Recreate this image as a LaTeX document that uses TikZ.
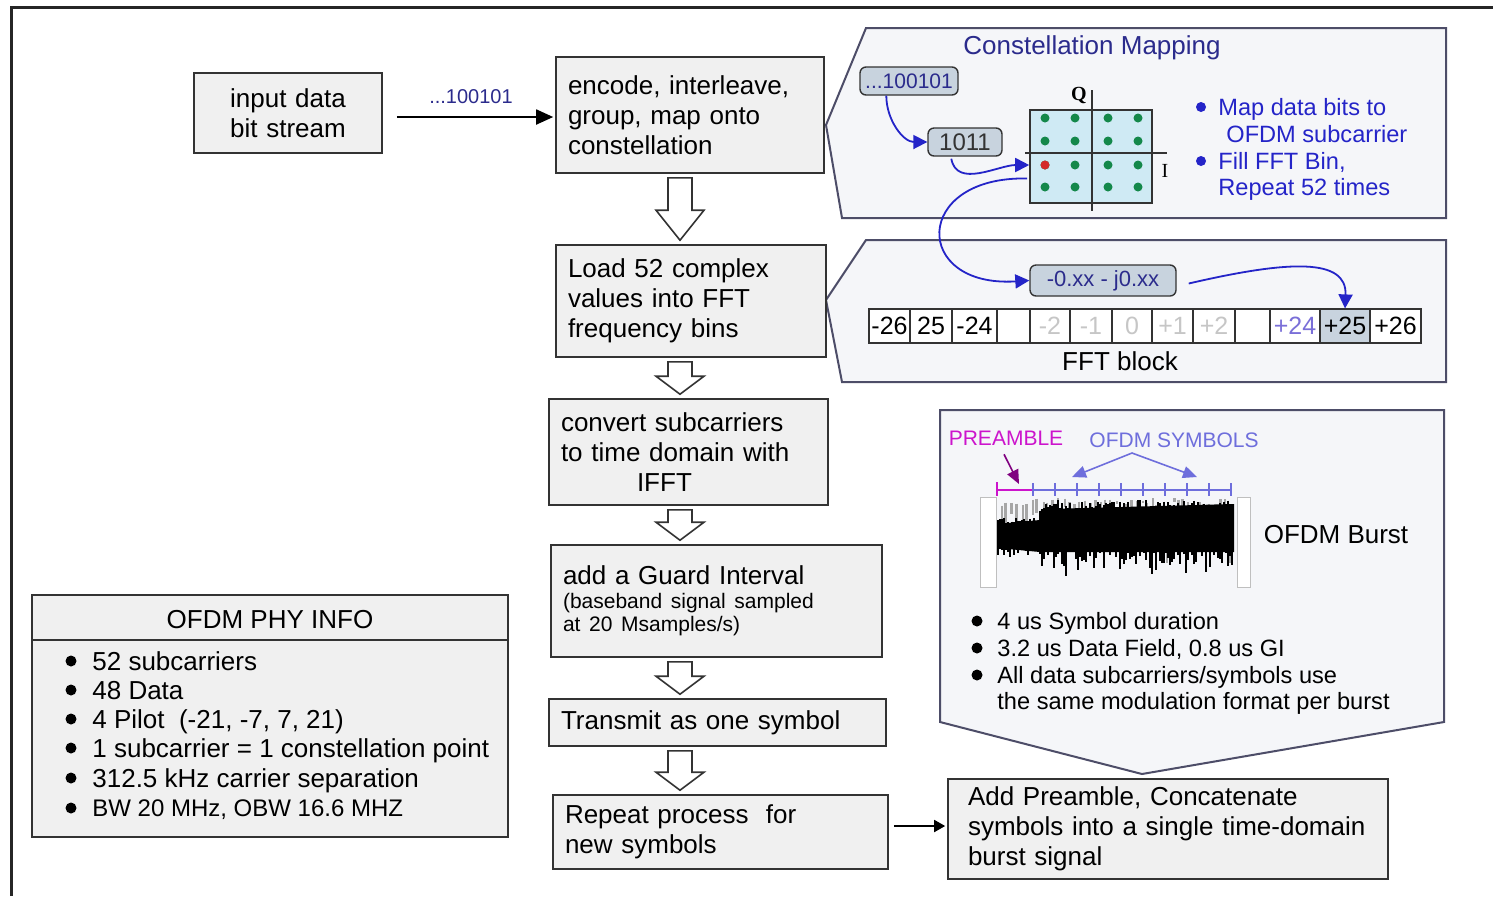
\documentclass[tikz,border=0pt]{standalone}
\usepackage{fontspec}
\setmainfont{Liberation Sans}
\newfontfamily\axisfont{Liberation Serif}
\usetikzlibrary{arrows.meta,calc,positioning}

\definecolor{boxfill}{HTML}{F0F0F0}
\definecolor{boxline}{HTML}{333333}
\definecolor{panelfill}{HTML}{F5F6F9}
\definecolor{panelline}{HTML}{4D4D68}
\definecolor{navy}{HTML}{2B2B8C}
\definecolor{mapblue}{HTML}{2424C8}
\definecolor{chipfill}{HTML}{C8D3DE}
\definecolor{gridfill}{HTML}{CFEAF4}
\definecolor{dotgreen}{HTML}{14884A}
\definecolor{dotred}{HTML}{D42A2A}
\definecolor{preamb}{HTML}{CC14CC}
\definecolor{symblue}{HTML}{6E6EDC}
\definecolor{binpurple}{HTML}{7A6FD8}

\newcommand\bigfont{\fontsize{13}{15}\selectfont}
\newcommand\midfont{\fontsize{11.8}{13.4}\selectfont}
\newcommand\smallfont{\fontsize{10.5}{11.5}\selectfont}
% hollow block arrow from the bottom of #1 to the top of #2, head length #3
\newcommand\hollowdown[3]{%
  \draw[hollow] let \p1=(#1.south -| ax), \p2=(#2.north -| ax) in
    (\x1-6pt,\y1-2pt) -- (\x1+6pt,\y1-2pt) -- (\x1+6pt,\y2+#3+2pt)
    -- (\x1+12pt,\y2+#3+2pt) -- (\x1,\y2+2pt) -- (\x1-12pt,\y2+#3+2pt)
    -- (\x1-6pt,\y2+#3+2pt) -- cycle;}

\begin{document}
\begin{tikzpicture}[x=0.5pt, y=-0.5pt,
    stepbox/.style={draw=boxline, fill=boxfill, line width=0.8pt, inner xsep=6pt,
      inner ysep=0pt, align=left, font=\bigfont},
    panel/.style={draw=panelline, fill=panelfill, line width=1pt},
    chip/.style={draw=boxline, fill=chipfill, rounded corners=3pt, line width=0.7pt, inner sep=1pt},
    hollow/.style={draw=boxline, fill=white, line width=0.8pt},
    flow/.style={line width=0.9pt, -{Triangle[length=8.5pt,width=7.5pt]}},
    bluecurve/.style={draw=mapblue, line width=0.9pt, -{Triangle[length=7pt,width=7pt]}},
    cdot/.style={circle, fill=dotgreen, inner sep=0pt, minimum size=4.5pt},
    bin/.style={draw=boxline, fill=white, line width=0.6pt, minimum height=17pt,
      inner sep=0pt, font=\fontsize{12.5}{13}\selectfont},
    binplain/.style={},
    binfaint/.style={text=gray!45},
    binlow/.style={text=binpurple},
    binhi/.style={fill=chipfill},
    notes/.style={align=left, anchor=north west, inner sep=0pt}]
\useasboundingbox (0,0) rectangle (1493,896);
\draw[line width=1.5pt, black!85] (11,896) -- (11,7) -- (1493,7);
\coordinate (ax) at (680,0);

% side panels
\draw[panel] (866,28) -- (1446,28) -- (1446,218) -- (842,218) -- (826,125) -- cycle;
\draw[panel] (866,240) -- (1446,240) -- (1446,382) -- (842,382) -- (826,300) -- cycle;
\draw[panel] (940,410) -- (1444,410) -- (1444,722) -- (1142,774) -- (940,722) -- cycle;

% process chain
\node[stepbox, align=center, text width=82pt, minimum height=40pt] (input) at (288,113)
  {input data\\bit stream};
\node[stepbox, text width=122pt, minimum height=58pt] (encode) at (690,115)
  {encode, interleave,\\group, map onto\\constellation};
\node[stepbox, text width=123pt, minimum height=56pt] (load) at (691,301)
  {Load 52 complex\\values into FFT\\frequency bins};
\node[stepbox, text width=127.5pt, minimum height=53pt] (convert) at (688.5,452)
  {convert subcarriers\\to time domain with\\\hspace*{38pt}IFFT};
\node[stepbox, text width=153.5pt, minimum height=56pt] (guard) at (716.5,601)
  {add a Guard Interval\\[0.5pt]\smallfont(baseband signal sampled\\[-3.5pt]at 20 Msamples/s)};
\node[stepbox, text width=156.5pt, minimum height=23.5pt] (transmit) at (717.5,722.5)
  {Transmit as one symbol};
\node[stepbox, text width=155.5pt, minimum height=37pt] (repeat) at (720.5,832)
  {Repeat process\ \ for\\new symbols};
\node[stepbox, inner xsep=10pt, text width=200pt, minimum height=50pt] (addpre) at (1168,829)
  {Add Preamble, Concatenate\\symbols into a single time-domain\\burst signal};

\draw[flow] ($(input.east)+(14,4)$) -- ($(encode.west)+(-2,2)$)
  node[midway, above=3pt, xshift=-2pt, font=\fontsize{10}{11}\selectfont, text=navy] {...100101};
\draw[flow, -{Triangle[length=5.5pt,width=6pt]}] ($(repeat.east)+(5,-6)$) -- ($(addpre.west)+(-2,-3)$);

\hollowdown{encode}{load}{15pt}
\hollowdown{load}{convert}{9pt}
\hollowdown{convert}{guard}{9pt}
\hollowdown{guard}{transmit}{9pt}
\hollowdown{transmit}{repeat}{9pt}

% PHY info
\node[draw=boxline, fill=boxfill, line width=0.8pt, minimum width=238pt, minimum height=121pt]
  (phy) at (270,716) {};
\draw[boxline, line width=0.8pt] ($(phy.north west)+(0,46)$) -- ($(phy.north east)+(0,46)$);
\node[font=\bigfont] (phytitle) at (270,620) {OFDM PHY INFO};
\node[notes, font=\bigfont] (phylist) at (92,651)
  {52 subcarriers\\[-0.4pt]
   48 Data\\[-0.4pt]
   4 Pilot~ (-21, -7, 7, 21)\\[-0.4pt]
   1 subcarrier = 1 constellation point\\[-0.4pt]
   312.5 kHz carrier separation\\[-0.4pt]
   {\fontsize{12}{15}\selectfont BW 20 MHz, OBW 16.6 MHZ}};
\foreach \by in {661,690,719,748,778,808}
  \fill (71,\by) circle (5.5);

% constellation mapping
\node[font=\bigfont, text=navy] (cmtitle) at (1092,48) {Constellation Mapping};
\node[chip, font=\fontsize{10.5}{12}\selectfont, text=navy, minimum width=49pt, minimum height=14pt]
  (bits) at (909,81) {...100101};
\node[chip, font=\fontsize{12}{12}\selectfont, text=boxline, minimum width=37pt, minimum height=14pt]
  (nibble) at (965,142) {1011};
\node[draw=boxline, fill=gridfill, line width=0.8pt, minimum width=61pt, minimum height=46.5pt,
  inner sep=0pt] (grid) at (1091,156.5) {};
\foreach \dx in {1045,1075,1108,1138}
  \foreach \dy in {118,141,165,187}
    \node[cdot] at (\dx,\dy) {};
\node[cdot, fill=dotred] (redpt) at (1045,165) {};
\draw[boxline, line width=0.8pt] (1092,90) -- (1092,211);
\draw[boxline, line width=0.8pt] (1025,153) -- (1167,153);
\node[font=\axisfont\bfseries\fontsize{10}{10}\selectfont] (qlab) at (1079,95) {Q};
\node[font=\axisfont\fontsize{10}{10}\selectfont] (ilab) at (1165,171) {I};
\node[notes, font=\midfont, text=mapblue] (mapnote) at (1218,98)
  {Map data bits to\\\hspace*{4pt}OFDM subcarrier\\Fill FFT Bin,\\Repeat 52 times};
\foreach \by in {107,161}
  \fill[mapblue] (1201,\by) circle (5);
\draw[bluecurve] ($(bits.south west)+(27,0)$) to[out=-90, in=180] (nibble.west);
\draw[bluecurve] ($(nibble.south west)+(24,2)$) to[out=-80, in=180] (grid.west |- redpt);

% FFT block
\node[chip, font=\fontsize{11}{12}\selectfont, text=navy, minimum width=73pt, minimum height=15.5pt]
  (value) at (1103,280.5) {-0.xx - j0.xx};
\foreach \lft/\rgt/\lab/\sty [count=\i] in {869/910/-26/binplain, 910/952/25/binplain,
    952/997/-24/binplain, 997/1030//binplain, 1030/1070/-2/binfaint, 1070/1112/-1/binfaint,
    1112/1152/0/binfaint, 1152/1193/+1/binfaint, 1193/1235/+2/binfaint, 1235/1270//binplain,
    1270/1320/+24/binlow, 1320/1370/+25/binhi, 1370/1421/+26/binplain} {
  \pgfmathsetmacro\bw{(\rgt-\lft)/2}
  \node[bin, \sty, minimum width=\bw pt] (bin\i) at ({(\lft+\rgt)/2},326) {\lab};
}
\node[font=\bigfont] (fftlab) at (1120,361) {FFT block};
\draw[bluecurve] ($(grid.west)+(-2,22)$) .. controls (912,176) and (912,288) .. (value.west);
\draw[bluecurve] ($(value.east)+(12,3)$) .. controls (1290,260) and (1347,258) .. (bin12.north);

% OFDM burst
\node[font=\fontsize{10.5}{11}\selectfont, text=preamb] (prelab) at (1006,438) {PREAMBLE};
\node[font=\fontsize{10.5}{11}\selectfont, text=symblue] (symlab) at (1174,440) {OFDM SYMBOLS};
\draw[symblue, line width=0.9pt] (1033,490) -- (1232,490);
\draw[preamb, line width=0.9pt] (997,490) -- (1033,490) (997,482) -- (997,496);
\foreach \tx in {1033,1055,...,1231}
  \draw[symblue, line width=0.8pt] (\tx,483) -- (\tx,496);
\coordinate (pretip) at (1019,484);
\coordinate (symleft) at (1072,477);
\coordinate (symtop) at (1132,453);
\coordinate (symright) at (1197,477);
\draw[violet, line width=0.8pt, -{Triangle[length=7pt,width=6pt]}] ($(prelab.south)+(-2,2)$) -- (pretip);
\draw[symblue, line width=0.8pt, {Triangle[length=7pt,width=6pt]}-{Triangle[length=7pt,width=6pt]}]
  (symleft) -- (symtop) -- (symright);
\draw[gray!50, fill=white] (980,497) rectangle (996,587);
\draw[gray!50, fill=white] (1237,497) rectangle (1250,587);
\pgfmathsetseed{11}
\foreach \k in {0,...,44} {
  \pgfmathsetmacro\xx{1000+5.2*\k+3*rnd}
  \pgfmathsetmacro\yy{498+8*rnd}
  \draw[gray!70, line width=1.2pt] (\xx,\yy) -- (\xx,\yy+60*rnd);
}
\fill (997,524) -- (1040,520) -- (1046,509) -- (1234,504) -- (1234,552) -- (1040,552) -- (997,548) -- cycle;
\foreach \k in {0,...,117} {
  \pgfmathsetmacro\xx{998+2*\k}
  \pgfmathsetmacro\ytop{\xx<1040 ? 518+6*rnd : 500+12*rnd}
  \pgfmathsetmacro\ybot{\xx<1040 ? 545+12*rnd : 550+34*rnd*rnd}
  \draw[line width=1.1pt] (\xx,\ytop) -- (\xx,\ybot);
}
\node[font=\bigfont] (burstlab) at (1336,535) {OFDM Burst};
\node[notes, font=\midfont] (burstnote) at (997,612)
  {4 us Symbol duration\\
   3.2 us Data Field, 0.8 us GI\\
   All data subcarriers/symbols use\\
   the same modulation format per burst};
\foreach \by in {621,648,675}
  \fill (977,\by) circle (5.5);
\end{tikzpicture}
\end{document}
